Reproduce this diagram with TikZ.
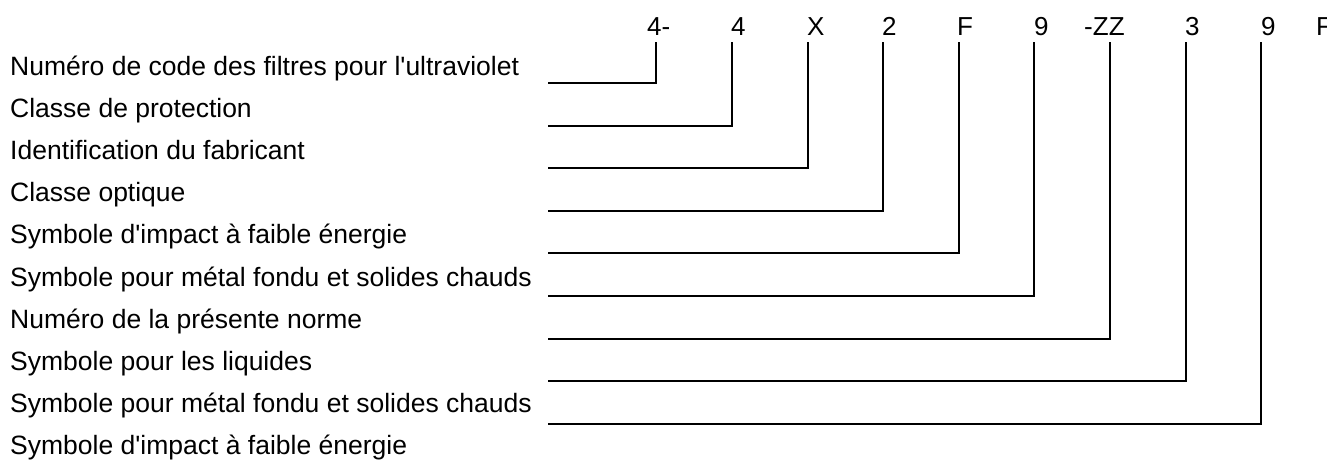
\documentclass[tikz,border=0pt]{standalone}
\usepackage{fontspec}
\newfontfamily\libsans{Liberation Sans}
\begin{document}
\begin{tikzpicture}[x=1pt,y=-1pt,
  lbl/.style={anchor=base west, inner sep=0pt, font=\libsans\fontsize{26}{30}\selectfont},
  desc/.style={lbl, font=\libsans\fontsize{26.5}{30}\selectfont},
  lead/.style={line width=2pt, line join=miter}]
\useasboundingbox (0,0) rectangle (1327,464);
\clip (0,0) rectangle (1327,464);
% code characters along the top
\node[lbl] (c1) at (647,35) {4-};
\node[lbl] (c2) at (731,35) {4};
\node[lbl] (c3) at (807,35) {X};
\node[lbl] (c4) at (882,35) {2};
\node[lbl] (c5) at (957,35) {F};
\node[lbl] (c6) at (1034,35) {9};
\node[lbl] (c7) at (1084,35) {-ZZ};
\node[lbl] (c8) at (1185,35) {3};
\node[lbl] (c9) at (1261,35) {9};
\node[lbl] (c10) at (1316,35) {F};
% descriptions
\node[desc] (d1) at (10,75.5) {Numéro de code des filtres pour l'ultraviolet};
\node[desc] (d2) at (10,117.6) {Classe de protection};
\node[desc] (d3) at (10,159.7) {Identification du fabricant};
\node[desc] (d4) at (10,201.8) {Classe optique};
\node[desc] (d5) at (10,243.9) {Symbole d'impact à faible énergie};
\node[desc] (d6) at (10,286.0) {Symbole pour métal fondu et solides chauds};
\node[desc] (d7) at (10,328.1) {Numéro de la présente norme};
\node[desc] (d8) at (10,370.2) {Symbole pour les liquides};
\node[desc] (d9) at (10,412.3) {Symbole pour métal fondu et solides chauds};
\node[desc] (d10) at (10,454.4) {Symbole d'impact à faible énergie};
% leader end points
\coordinate (t1) at (656,42);  \coordinate (s1) at (548,83);
\coordinate (t2) at (732,42);  \coordinate (s2) at (548,125.6);
\coordinate (t3) at (808,42);  \coordinate (s3) at (548,168.2);
\coordinate (t4) at (883,42);  \coordinate (s4) at (548,210.8);
\coordinate (t5) at (959,42);  \coordinate (s5) at (548,253.4);
\coordinate (t6) at (1034,42); \coordinate (s6) at (548,296.0);
\coordinate (t7) at (1110,42); \coordinate (s7) at (548,338.6);
\coordinate (t8) at (1186,42); \coordinate (s8) at (548,381.2);
\coordinate (t9) at (1261,42); \coordinate (s9) at (548,423.8);
\foreach \i in {1,...,9} {
  \draw[lead] (t\i) |- (s\i);
}
\end{tikzpicture}
\end{document}
